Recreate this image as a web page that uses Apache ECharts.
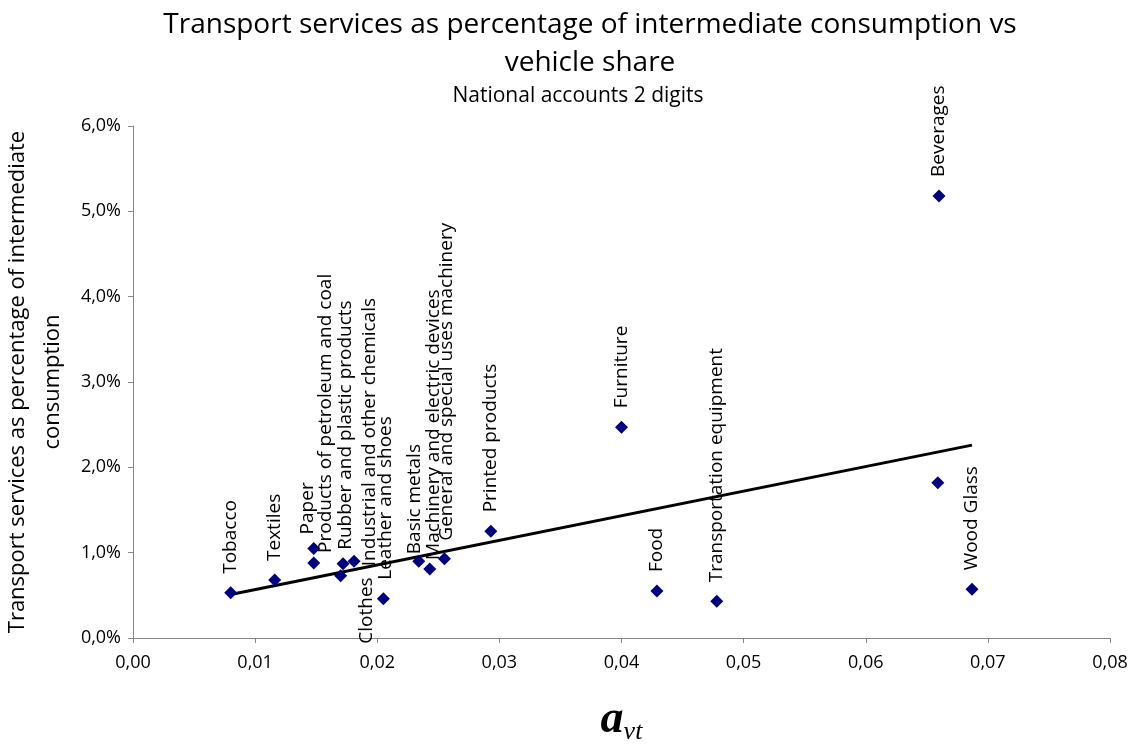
<!DOCTYPE html>
<html>
<head>
<meta charset="utf-8">
<script src="https://cdn.jsdelivr.net/npm/echarts@6/dist/echarts.min.js"></script>
<style>html,body{margin:0;padding:0;background:#fff}#c{width:1134px;height:746px}</style>
</head>
<body>
<div id="c"></div>
<script>
// ---- data ----
const sectors = ["Tobacco","Textiles","Paper","Products of petroleum and coal","Rubber and plastic products","Industrial and other chemicals","Clothes","Leather and shoes","Basic metals","Machinery and electric devices","General and special uses machinery","Printed products","Furniture","Food","Transportation equipment","Beverages","","Wood Glass"];
const vehicleShare = [0.0080,0.0116,0.0148,0.0148,0.0172,0.0181,0.0170,0.0205,0.0234,0.0243,0.0255,0.0293,0.0400,0.0429,0.0478,0.0660,0.0659,0.0687];
const transportPct = [0.0053,0.0068,0.0105,0.0088,0.0087,0.0090,0.0073,0.0046,0.0090,0.0081,0.0093,0.0125,0.0247,0.0055,0.0043,0.0518,0.0182,0.0057];
const trendX = [0.0080, 0.0687];
const trendY = [0.0051, 0.0226];
const xTicks = [0,0.01,0.02,0.03,0.04,0.05,0.06,0.07,0.08];
const yTicks = [0,0.01,0.02,0.03,0.04,0.05,0.06];

// ---- label placement (anchor = bottom-centre of rotated label, relative to marker) ----
const labelNudge = {
  "Paper": [-6,-14],
  "Products of petroleum and coal": [12,-10],
  "Rubber and plastic products": [3,-14],
  "Industrial and other chemicals": [16,5],
  "Clothes": [26,68],
  "Leather and shoes": [2,-19],
  "Basic metals": [-4,-7],
  "Machinery and electric devices": [4,-9],
  "General and special uses machinery": [2,-18]
};
const defaultNudge = [0,-19];
const SYM = 13;

const points = sectors.map((n,i)=>{
  const nd = labelNudge[n] || defaultNudge;
  return {
    name: n,
    value: [vehicleShare[i], transportPct[i]],
    label: { position: [SYM/2 + nd[0], SYM/2 + nd[1]] }
  };
});

const chart = echarts.init(document.getElementById('c'));
const FONT = '"Open Sans", sans-serif';
const SERIF = '"Liberation Serif", "Times New Roman", serif';
chart.setOption({
  animation: false,
  title: [
    { text: 'Transport services as percentage of intermediate consumption vs\nvehicle share',
      left: 585, top: 1, textAlign: 'center',
      textStyle: { fontFamily: FONT, fontSize: 28, fontWeight: 'normal', color: '#000', lineHeight: 38 } },
    { text: 'National accounts 2 digits', left: 573, top: 81, textAlign: 'center',
      textStyle: { fontFamily: FONT, fontSize: 21, fontWeight: 'normal', color: '#000' } }
  ],
  grid: { left: 133, right: 24, top: 126, bottom: 108, containLabel: false, outerBoundsMode: 'none' },
  xAxis: {
    type: 'value', min: xTicks[0], max: xTicks[xTicks.length-1], interval: 0.01,
    splitLine: { show: false },
    axisLine: { lineStyle: { color: '#868686', width: 1 } },
    axisTick: { show: true, length: 5, lineStyle: { color: '#868686' } },
    axisLabel: { fontFamily: FONT, fontSize: 18, color: '#000', margin: 16,
      formatter: v => v.toFixed(2).replace('.', ',') },
    name: '{a|a}{b|vt}', nameLocation: 'middle', nameGap: 55,
    nameTextStyle: {
      rich: {
        a: { fontFamily: SERIF, fontStyle: 'italic', fontWeight: 'bold', fontSize: 46, color: '#000', lineHeight: 50, verticalAlign: 'bottom' },
        b: { fontFamily: SERIF, fontStyle: 'italic', fontSize: 26, color: '#000', lineHeight: 50, verticalAlign: 'bottom', padding: [0,0,-2,0] }
      }
    }
  },
  yAxis: {
    type: 'value', min: yTicks[0], max: yTicks[yTicks.length-1], interval: 0.01,
    splitLine: { show: false },
    axisLine: { show: true, lineStyle: { color: '#868686', width: 1 } },
    axisTick: { show: true, length: 5, lineStyle: { color: '#868686' } },
    axisLabel: { fontFamily: FONT, fontSize: 18, color: '#000', margin: 12,
      formatter: v => (v*100).toFixed(1).replace('.', ',') + '%' },
    name: 'Transport services as percentage of intermediate\nconsumption',
    nameLocation: 'middle', nameRotate: 90, nameGap: 60,
    nameTextStyle: { fontFamily: FONT, fontSize: 22, color: '#000', lineHeight: 35 }
  },
  series: [
    {
      type: 'scatter', symbol: 'diamond', symbolSize: SYM,
      itemStyle: { color: '#000080', opacity: 1 },
      data: points,
      label: {
        show: true, rotate: 90, align: 'left', verticalAlign: 'middle',
        fontFamily: FONT, fontSize: 19, color: '#000',
        formatter: p => p.name
      },
      z: 3
    },
    {
      type: 'line', symbol: 'none', silent: true,
      data: trendX.map((x,i)=>[x, trendY[i]]),
      lineStyle: { color: '#000', width: 3 },
      z: 2
    }
  ]
});
</script>
</body>
</html>
